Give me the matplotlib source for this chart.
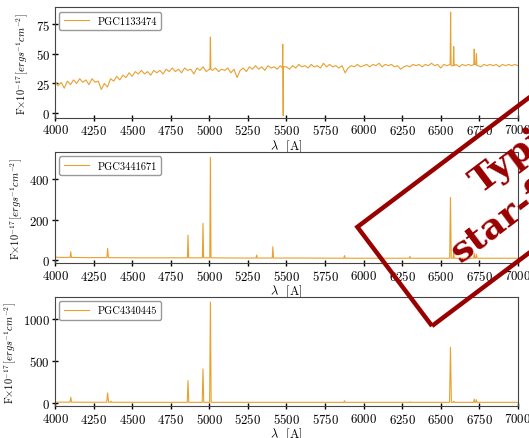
"""
Three optical spectra stacked, with a 'Typical star-forming' stamp on top.
"""
import numpy as np
import matplotlib
matplotlib.use('Agg')
import matplotlib.pyplot as plt
from matplotlib.patches import Rectangle

# ==== global ==== #
OUT_FILE = 'out.png'
LINE_COLOR = '#E9A030'
STAMP_COLOR = '#990000'
X_TICKS = [4000, 4250, 4500, 4750, 5000, 5250, 5500, 5750, 6000, 6250, 6500, 6750, 7000]

# ==== data: PGC1133474 (continuum every 20 A from 4000 to 7000) ==== #
NAME_1 = 'PGC1133474'
CONT_WAVE_1 = np.arange(4000, 7001, 20)
CONT_FLUX_1 = [
    27, 23, 26, 21, 27, 24, 28, 25, 29, 26,
    28, 24, 29, 26, 27, 20, 25, 22, 29, 27,
    31, 28, 32, 30, 34, 31, 35, 33, 36, 33,
    35, 32, 36, 34, 36, 33, 37, 35, 38, 35,
    37, 34, 38, 36, 37, 33, 38, 36, 39, 35,
    37, 36, 38, 35, 37, 36, 38, 34, 37, 30,
    36, 38, 35, 39, 37, 40, 37, 39, 36, 40,
    38, 39, 37, 40, 38, 39, 37, 40, 38, 41,
    39, 40, 38, 41, 39, 40, 38, 42, 39, 41,
    39, 40, 38, 40, 34, 38, 40, 39, 41, 39,
    40, 41, 39, 41, 40, 42, 39, 41, 40, 41,
    39, 40, 37, 39, 40, 39, 41, 40, 41, 39,
    41, 40, 42, 40, 41, 38, 41, 40, 41, 40,
    41, 39, 41, 40, 41, 40, 41, 40, 39, 41,
    40, 41, 40, 41, 39, 41, 40, 41, 40, 41,
    40,
]
LINE_WAVE_1 = [5004, 5007, 5010, 5474, 5476, 5479, 5482,
               6561, 6564, 6567, 6581, 6584, 6587, 6714, 6717, 6720, 6728, 6731, 6734]
LINE_FLUX_1 = [37, 64, 37, 38, 58, -2, 39,
               41, 85, 40, 40, 56, 40, 41, 54, 41, 41, 50, 40]

# ==== data: PGC3441671 ==== #
NAME_2 = 'PGC3441671'
WAVE_2 = [4000, 4050, 4098, 4102, 4106, 4200, 4336, 4341, 4346, 4500,
          4700, 4858, 4862, 4866, 4955, 4959, 4963, 5003, 5007, 5011,
          5200, 5303, 5307, 5311, 5408, 5412, 5416, 5600, 5872, 5876,
          5880, 6100, 6296, 6300, 6304, 6558, 6563, 6568, 6580, 6584,
          6588, 6713, 6717, 6721, 6727, 6731, 6735, 7000]
FLUX_2 = [14, 13, 13, 41, 13, 12, 12, 57, 12, 11,
          11, 11, 123, 11, 11, 181, 11, 11, 507, 11,
          10, 10, 25, 10, 10, 66, 10, 10, 9, 22,
          9, 9, 9, 18, 9, 9, 309, 9, 9, 40,
          9, 9, 33, 9, 9, 28, 9, 9]

# ==== data: PGC4340445 ==== #
NAME_3 = 'PGC4340445'
WAVE_3 = [4000, 4097, 4102, 4107, 4200, 4335, 4341, 4347, 4359, 4363,
          4367, 4600, 4857, 4862, 4867, 4954, 4959, 4964, 5002, 5007,
          5012, 5300, 5872, 5876, 5880, 6100, 6296, 6300, 6304, 6557,
          6563, 6569, 6580, 6584, 6588, 6713, 6717, 6721, 6727, 6731,
          6735, 7000]
FLUX_3 = [10, 10, 68, 10, 9, 9, 119, 9, 9, 22,
          9, 8, 8, 266, 8, 8, 404, 8, 8, 1198,
          8, 8, 8, 28, 8, 8, 8, 14, 8, 8,
          661, 8, 8, 22, 8, 8, 47, 8, 8, 40,
          8, 8]


def mergeSpectrum(contWave, contFlux, lineWave, lineFlux):
    """
    Put the emission line points into the continuum and sort by wavelength.
    """
    wave = np.concatenate([np.asarray(contWave, float), np.asarray(lineWave, float)])
    flux = np.concatenate([np.asarray(contFlux, float), np.asarray(lineFlux, float)])
    order = np.argsort(wave, kind='stable')
    return wave[order], flux[order]


def drawPanel(ax, wave, flux, name, ylim, yticks):
    """
    Draw one spectrum with its legend and labels.
    """
    ax.plot(wave, flux, color=LINE_COLOR, lw=0.8, label=name)
    ax.set_xlim(4000, 7000)
    ax.set_ylim(*ylim)
    ax.set_xticks(X_TICKS)
    ax.set_yticks(yticks)
    ax.tick_params(direction='inout', length=5, width=1, labelsize=9.2, pad=1.2)
    for spine in ax.spines.values():
        spine.set_color('#444444')
    ax.set_xlabel(r'$\lambda$  [A]', fontsize=9)
    ax.xaxis.set_label_coords(0.5, -0.175)
    ax.set_ylabel(r'F$\times10^{-17}\,[ergs^{-1}cm^{-2}]$', fontsize=7.5, labelpad=3)
    ax.legend(loc='upper left', fontsize=7.5, frameon=True, fancybox=True,
              edgecolor='#999999', framealpha=1.0, handlelength=2.4,
              borderpad=0.45, borderaxespad=0.4)


def drawStamp(fig):
    """
    Rotated rectangle stamp that runs off the right edge.
    """
    rect = Rectangle((4.32, 1.12), 3.0, 1.24, angle=37, rotation_point='xy',
                     transform=fig.dpi_scale_trans, fill=False,
                     edgecolor=STAMP_COLOR, lw=3.2, zorder=10)
    fig.add_artist(rect)
    textKw = dict(transform=fig.dpi_scale_trans, rotation=37, rotation_mode='anchor',
                  ha='left', va='baseline', color=STAMP_COLOR, fontsize=26,
                  fontweight='bold', family='DejaVu Serif', zorder=11)
    fig.text(4.80, 2.45, 'Typical', **textKw)
    fig.text(4.60, 1.76, 'star-forming', **textKw)


def main():
    plt.rcParams['font.family'] = 'serif'
    plt.rcParams['font.serif'] = ['cmr10', 'DejaVu Serif']
    plt.rcParams['mathtext.fontset'] = 'cm'
    plt.rcParams['axes.formatter.use_mathtext'] = True

    fig = plt.figure(figsize=(5.29, 4.39), dpi=100)
    ax1 = fig.add_axes([0.104, 0.7290, 0.875, 0.2519])
    ax2 = fig.add_axes([0.104, 0.3975, 0.875, 0.2533])
    ax3 = fig.add_axes([0.104, 0.0720, 0.875, 0.2494])

    wave1, flux1 = mergeSpectrum(CONT_WAVE_1, CONT_FLUX_1, LINE_WAVE_1, LINE_FLUX_1)
    drawPanel(ax1, wave1, flux1, NAME_1, (-4, 89), [0, 25, 50, 75])
    drawPanel(ax2, WAVE_2, FLUX_2, NAME_2, (-17, 532), [0, 200, 400])
    drawPanel(ax3, WAVE_3, FLUX_3, NAME_3, (-40, 1258), [0, 500, 1000])

    drawStamp(fig)
    fig.savefig(OUT_FILE, dpi=100)


if __name__ == '__main__':
    main()
